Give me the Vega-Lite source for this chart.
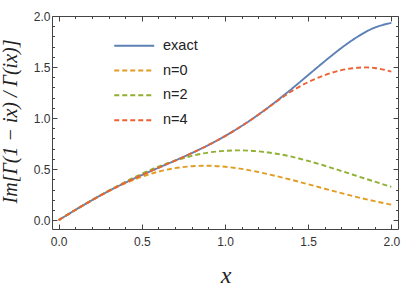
{
  "$schema": "https://vega.github.io/schema/vega-lite/v6.json",
  "width": 346,
  "height": 213,
  "autosize": "none",
  "padding": {"left": 52, "top": 16, "right": 17, "bottom": 58},
  "background": "white",
  "config": {
    "view": {"stroke": "#444", "strokeWidth": 1},
    "font": "Liberation Sans"
  },
  "data": {
    "values": [
      {"s": "exact", "x": 0.0, "y": 0.0},
      {"s": "exact", "x": 0.1, "y": 0.0993},
      {"s": "exact", "x": 0.2, "y": 0.1950},
      {"s": "exact", "x": 0.3, "y": 0.2842},
      {"s": "exact", "x": 0.4, "y": 0.3662},
      {"s": "exact", "x": 0.5, "y": 0.4416},
      {"s": "exact", "x": 0.6, "y": 0.5129},
      {"s": "exact", "x": 0.7, "y": 0.5834},
      {"s": "exact", "x": 0.8, "y": 0.6564},
      {"s": "exact", "x": 0.9, "y": 0.7355},
      {"s": "exact", "x": 1.0, "y": 0.8235},
      {"s": "exact", "x": 1.1, "y": 0.9222},
      {"s": "exact", "x": 1.2, "y": 1.0325},
      {"s": "exact", "x": 1.3, "y": 1.1540},
      {"s": "exact", "x": 1.4, "y": 1.2847},
      {"s": "exact", "x": 1.5, "y": 1.4211},
      {"s": "exact", "x": 1.6, "y": 1.5575},
      {"s": "exact", "x": 1.7, "y": 1.6869},
      {"s": "exact", "x": 1.8, "y": 1.8000},
      {"s": "exact", "x": 1.9, "y": 1.8861},
      {"s": "exact", "x": 2.0, "y": 1.9332},
      {"s": "n=0", "x": 0.0, "y": 0.0},
      {"s": "n=0", "x": 0.1, "y": 0.0994},
      {"s": "n=0", "x": 0.2, "y": 0.1949},
      {"s": "n=0", "x": 0.3, "y": 0.2830},
      {"s": "n=0", "x": 0.4, "y": 0.3605},
      {"s": "n=0", "x": 0.5, "y": 0.4250},
      {"s": "n=0", "x": 0.6, "y": 0.4748},
      {"s": "n=0", "x": 0.7, "y": 0.5090},
      {"s": "n=0", "x": 0.8, "y": 0.5280},
      {"s": "n=0", "x": 0.9, "y": 0.5330},
      {"s": "n=0", "x": 1.0, "y": 0.5225},
      {"s": "n=0", "x": 1.1, "y": 0.5020},
      {"s": "n=0", "x": 1.2, "y": 0.4715},
      {"s": "n=0", "x": 1.3, "y": 0.4345},
      {"s": "n=0", "x": 1.4, "y": 0.3945},
      {"s": "n=0", "x": 1.5, "y": 0.3515},
      {"s": "n=0", "x": 1.6, "y": 0.3075},
      {"s": "n=0", "x": 1.7, "y": 0.2640},
      {"s": "n=0", "x": 1.8, "y": 0.2230},
      {"s": "n=0", "x": 1.9, "y": 0.1855},
      {"s": "n=0", "x": 2.0, "y": 0.1520},
      {"s": "n=2", "x": 0.0, "y": 0.0},
      {"s": "n=2", "x": 0.1, "y": 0.0996},
      {"s": "n=2", "x": 0.2, "y": 0.1966},
      {"s": "n=2", "x": 0.3, "y": 0.2885},
      {"s": "n=2", "x": 0.4, "y": 0.3740},
      {"s": "n=2", "x": 0.5, "y": 0.4540},
      {"s": "n=2", "x": 0.6, "y": 0.5245},
      {"s": "n=2", "x": 0.7, "y": 0.5830},
      {"s": "n=2", "x": 0.8, "y": 0.6293},
      {"s": "n=2", "x": 0.9, "y": 0.6623},
      {"s": "n=2", "x": 1.0, "y": 0.6787},
      {"s": "n=2", "x": 1.1, "y": 0.6832},
      {"s": "n=2", "x": 1.2, "y": 0.6739},
      {"s": "n=2", "x": 1.3, "y": 0.6531},
      {"s": "n=2", "x": 1.4, "y": 0.6219},
      {"s": "n=2", "x": 1.5, "y": 0.5800},
      {"s": "n=2", "x": 1.6, "y": 0.5330},
      {"s": "n=2", "x": 1.7, "y": 0.4810},
      {"s": "n=2", "x": 1.8, "y": 0.4290},
      {"s": "n=2", "x": 1.9, "y": 0.3770},
      {"s": "n=2", "x": 2.0, "y": 0.3260},
      {"s": "n=4", "x": 0.0, "y": 0.0},
      {"s": "n=4", "x": 0.1, "y": 0.0993},
      {"s": "n=4", "x": 0.2, "y": 0.1950},
      {"s": "n=4", "x": 0.3, "y": 0.2842},
      {"s": "n=4", "x": 0.4, "y": 0.3662},
      {"s": "n=4", "x": 0.5, "y": 0.4416},
      {"s": "n=4", "x": 0.6, "y": 0.5129},
      {"s": "n=4", "x": 0.7, "y": 0.5834},
      {"s": "n=4", "x": 0.8, "y": 0.6564},
      {"s": "n=4", "x": 0.9, "y": 0.7355},
      {"s": "n=4", "x": 1.0, "y": 0.8235},
      {"s": "n=4", "x": 1.1, "y": 0.9222},
      {"s": "n=4", "x": 1.2, "y": 1.0320},
      {"s": "n=4", "x": 1.3, "y": 1.1500},
      {"s": "n=4", "x": 1.4, "y": 1.2620},
      {"s": "n=4", "x": 1.5, "y": 1.3520},
      {"s": "n=4", "x": 1.6, "y": 1.4210},
      {"s": "n=4", "x": 1.7, "y": 1.4690},
      {"s": "n=4", "x": 1.8, "y": 1.4930},
      {"s": "n=4", "x": 1.9, "y": 1.4910},
      {"s": "n=4", "x": 2.0, "y": 1.4550}
    ]
  },
  "layer": [
    {
      "mark": {"type": "line", "strokeWidth": 1.9, "interpolate": "natural"},
      "encoding": {
        "x": {
          "field": "x", "type": "quantitative",
          "scale": {"domain": [-0.04, 2.04], "nice": false, "zero": false},
          "axis": {
            "orient": "bottom", "values": [0, 0.5, 1, 1.5, 2], "format": ".1f",
            "grid": false, "domain": false,
            "tickSize": -5, "tickColor": "#444", "tickWidth": 1,
            "labelPadding": 12, "labelFont": "Liberation Sans", "labelFontSize": 12, "labelColor": "#333",
            "title": "x", "titleFont": "Liberation Serif", "titleFontStyle": "italic", "titleFontWeight": "normal",
            "titleFontSize": 24, "titleColor": "#222", "titleX": 173.5, "titleY": 53,
            "titleBaseline": "alphabetic", "titleAlign": "center"
          }
        },
        "y": {
          "field": "y", "type": "quantitative",
          "scale": {"domain": [-0.087, 2.0], "nice": false, "zero": false},
          "axis": {
            "orient": "left", "values": [0, 0.5, 1, 1.5, 2], "format": ".1f",
            "grid": false, "domain": false,
            "tickSize": -5, "tickColor": "#444", "tickWidth": 1,
            "labelPadding": 7, "labelFont": "Liberation Sans", "labelFontSize": 12, "labelColor": "#333",
            "title": "Im[Γ(1 − ix) / Γ(ix)]", "titleFont": "Liberation Serif", "titleFontStyle": "italic", "titleFontWeight": "normal",
            "titleFontSize": 20, "titleColor": "#222", "titleX": -36, "titleY": 105,
            "titleAngle": 270, "titleBaseline": "alphabetic", "titleAlign": "center"
          }
        },
        "color": {
          "field": "s", "type": "nominal",
          "scale": {"domain": ["exact", "n=0", "n=2", "n=4"], "range": ["#5E81B5", "#E19C24", "#8FB032", "#EB6235"]},
          "legend": {
            "title": null, "orient": "none", "legendX": 75, "legendY": 22.5, "padding": 0,
            "symbolType": "M-5,0H5", "symbolSize": 64, "symbolStrokeWidth": 2,
            "labelFont": "Liberation Sans", "labelFontSize": 14.5, "labelColor": "#222", "labelOffset": 21.5,
            "rowPadding": 9.8
          }
        },
        "strokeDash": {
          "field": "s", "type": "nominal",
          "scale": {"domain": ["exact", "n=0", "n=2", "n=4"], "range": [[1, 0], [5, 3], [5, 3], [5, 3]]},
          "legend": {
            "title": null, "orient": "none", "legendX": 75, "legendY": 22.5, "padding": 0,
            "symbolType": "M-5,0H5", "symbolSize": 64, "symbolStrokeWidth": 2,
            "labelFont": "Liberation Sans", "labelFontSize": 14.5, "labelColor": "#222", "labelOffset": 21.5,
            "rowPadding": 9.8
          }
        }
      }
    },
    {
      "mark": {"type": "point", "opacity": 0},
      "encoding": {
        "x": {
          "field": "x", "type": "quantitative",
          "scale": {"domain": [-0.04, 2.04], "nice": false, "zero": false},
          "axis": {"orient": "bottom", "values": [0.1, 0.2, 0.3, 0.4, 0.6, 0.7, 0.8, 0.9, 1.1, 1.2, 1.3, 1.4, 1.6, 1.7, 1.8, 1.9],
            "labels": false, "domain": false, "grid": false, "title": null, "tickSize": -2.5, "tickColor": "#444", "tickWidth": 1}
        },
        "y": {
          "field": "y", "type": "quantitative",
          "scale": {"domain": [-0.087, 2.0], "nice": false, "zero": false},
          "axis": {"orient": "left", "values": [0.1, 0.2, 0.3, 0.4, 0.6, 0.7, 0.8, 0.9, 1.1, 1.2, 1.3, 1.4, 1.6, 1.7, 1.8, 1.9],
            "labels": false, "domain": false, "grid": false, "title": null, "tickSize": -2.5, "tickColor": "#444", "tickWidth": 1}
        }
      }
    },
    {
      "mark": {"type": "point", "opacity": 0},
      "encoding": {
        "x": {
          "field": "x", "type": "quantitative",
          "scale": {"domain": [-0.04, 2.04], "nice": false, "zero": false},
          "axis": {"orient": "top", "values": [0, 0.5, 1, 1.5, 2],
            "labels": false, "domain": false, "grid": false, "title": null, "tickSize": -5, "tickColor": "#444", "tickWidth": 1}
        },
        "y": {
          "field": "y", "type": "quantitative",
          "scale": {"domain": [-0.087, 2.0], "nice": false, "zero": false},
          "axis": {"orient": "right", "values": [0, 0.5, 1, 1.5, 2],
            "labels": false, "domain": false, "grid": false, "title": null, "tickSize": -5, "tickColor": "#444", "tickWidth": 1}
        }
      }
    },
    {
      "mark": {"type": "point", "opacity": 0},
      "encoding": {
        "x": {
          "field": "x", "type": "quantitative",
          "scale": {"domain": [-0.04, 2.04], "nice": false, "zero": false},
          "axis": {"orient": "top", "values": [0.1, 0.2, 0.3, 0.4, 0.6, 0.7, 0.8, 0.9, 1.1, 1.2, 1.3, 1.4, 1.6, 1.7, 1.8, 1.9],
            "labels": false, "domain": false, "grid": false, "title": null, "tickSize": -2.5, "tickColor": "#444", "tickWidth": 1}
        },
        "y": {
          "field": "y", "type": "quantitative",
          "scale": {"domain": [-0.087, 2.0], "nice": false, "zero": false},
          "axis": {"orient": "right", "values": [0.1, 0.2, 0.3, 0.4, 0.6, 0.7, 0.8, 0.9, 1.1, 1.2, 1.3, 1.4, 1.6, 1.7, 1.8, 1.9],
            "labels": false, "domain": false, "grid": false, "title": null, "tickSize": -2.5, "tickColor": "#444", "tickWidth": 1}
        }
      }
    }
  ],
  "resolve": {"axis": {"x": "independent", "y": "independent"}}
}
